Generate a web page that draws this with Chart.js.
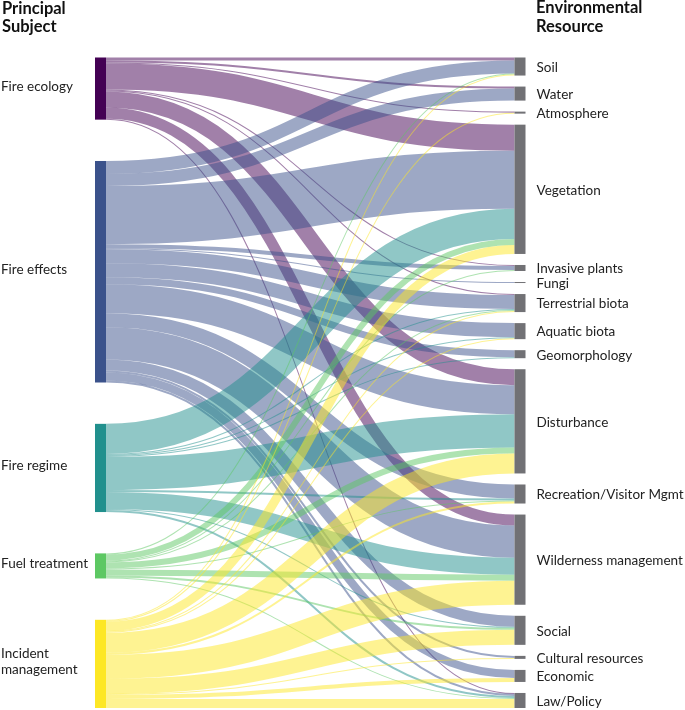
<!DOCTYPE html>
<html>
<head>
<meta charset="utf-8">
<script src="https://cdn.jsdelivr.net/npm/chart.js@4.4.1/dist/chart.umd.min.js"></script>
<style>
  html, body { margin: 0; padding: 0; background: #fff; }
</style>
</head>
<body>
<canvas id="sankey" width="685" height="710"></canvas>
<script>
// left column: principal subject of each study
const subjects = ["Fire ecology", "Fire effects", "Fire regime", "Fuel treatment", "Incident management"];
const subjectLines = [["Fire ecology"], ["Fire effects"], ["Fire regime"], ["Fuel treatment"], ["Incident", "management"]];
const subjectColors = ["#440154", "#3b528b", "#21908d", "#5dc863", "#fde725"];

// right column: environmental resource
const resources = ["Soil", "Water", "Atmosphere", "Vegetation", "Invasive plants", "Fungi",
  "Terrestrial biota", "Aquatic biota", "Geomorphology", "Disturbance",
  "Recreation/Visitor Mgmt", "Wilderness management", "Social", "Cultural resources",
  "Economic", "Law/Policy"];

// flow values, one array per subject, in the order of resources
const fireEcology   = [3, 2, 1, 26, 1, 0, 1, 0, 0, 16, 0, 11, 0, 0, 0, 1];
const fireEffects   = [13, 12, 0, 58, 4, 1, 14, 14, 7, 29, 14, 32, 11, 2, 8, 2];
const fireRegime    = [0, 0, 0, 30, 0, 0, 1, 1, 1, 33, 2, 17, 1, 0, 0, 2];
const fuelTreatment = [1, 0, 0, 6, 1, 0, 1, 0, 0, 6, 1, 6, 2, 0, 0, 1];
const incidentMgmt  = [1, 0, 1, 9, 0, 0, 1, 1, 0, 20, 2, 24, 15, 1, 4, 9];

const flows = [fireEcology, fireEffects, fireRegime, fuelTreatment, incidentMgmt];

// ---- layout in value units (y) ----
const nodePad = 11;
const leftTotals = flows.map(r => r.reduce((a, b) => a + b, 0));
const rightTotals = resources.map((_, j) => flows.reduce((a, r) => a + r[j], 0));
const total = leftTotals.reduce((a, b) => a + b, 0);
const yMax = total + (resources.length - 1) * nodePad;

const leftGap = (yMax - total) / (subjects.length - 1);
const leftTop = [];
let acc = 0;
leftTotals.forEach(t => { leftTop.push(acc); acc += t + leftGap; });
const rightTop = [];
acc = 0;
rightTotals.forEach(t => { rightTop.push(acc); acc += t + nodePad; });

// link positions: source side sorted by target, target side sorted by source
const links = [];
const srcOff = leftTop.slice();
const tgtOff = rightTop.slice();
for (let i = 0; i < subjects.length; i++) {
  for (let j = 0; j < resources.length; j++) {
    const v = flows[i][j];
    if (!v) continue;
    links.push({ s: i, t: j, v: v, sy: srcOff[i] });
    srcOff[i] += v;
  }
}
for (let j = 0; j < resources.length; j++) {
  for (let i = 0; i < subjects.length; i++) {
    const l = links.find(k => k.s === i && k.t === j);
    if (!l) continue;
    l.ty = tgtOff[j];
    tgtOff[j] += l.v;
  }
}

function hexA(hex, a) {
  const n = parseInt(hex.slice(1), 16);
  return "rgba(" + (n >> 16) + "," + ((n >> 8) & 255) + "," + (n & 255) + "," + a + ")";
}

const nodeW = 11;
const labelFont = "13.5px Lato";
const titleFont = "bold 16.5px Lato";

const sankeyPlugin = {
  id: "sankey",
  beforeDatasetsDraw(chart) {
    const ctx = chart.ctx, xs = chart.scales.x, ys = chart.scales.y;
    const x0 = xs.getPixelForValue(0) + nodeW;
    const x1 = xs.getPixelForValue(1) - nodeW;
    const mx = (x0 + x1) / 2;
    ctx.save();
    ctx.lineCap = "butt";
    links.forEach(l => {
      const w = ys.getPixelForValue(l.v) - ys.getPixelForValue(0);
      const ya = ys.getPixelForValue(l.sy + l.v / 2);
      const yb = ys.getPixelForValue(l.ty + l.v / 2);
      ctx.beginPath();
      ctx.moveTo(x0, ya);
      ctx.bezierCurveTo(mx, ya, mx, yb, x1, yb);
      ctx.lineWidth = Math.abs(w);
      ctx.strokeStyle = hexA(subjectColors[l.s], 0.5);
      ctx.stroke();
    });
    ctx.restore();
  },
  afterDatasetsDraw(chart) {
    const ctx = chart.ctx, xs = chart.scales.x, ys = chart.scales.y;
    const xl = xs.getPixelForValue(0);
    const xr = xs.getPixelForValue(1) - nodeW;
    ctx.save();
    subjects.forEach((s, i) => {
      const a = ys.getPixelForValue(leftTop[i]);
      const b = ys.getPixelForValue(leftTop[i] + leftTotals[i]);
      ctx.fillStyle = subjectColors[i];
      ctx.fillRect(xl, a, nodeW, b - a);
    });
    resources.forEach((r, j) => {
      const a = ys.getPixelForValue(rightTop[j]);
      const b = ys.getPixelForValue(rightTop[j] + rightTotals[j]);
      ctx.fillStyle = "#717175";
      ctx.fillRect(xr, a, nodeW, Math.max(1, b - a));
    });

    ctx.fillStyle = "#222";
    ctx.font = labelFont;
    ctx.textBaseline = "middle";
    ctx.textAlign = "left";
    subjectLines.forEach((lines, i) => {
      const c = ys.getPixelForValue(leftTop[i] + leftTotals[i] / 2);
      const lh = 16;
      lines.forEach((t, k) => {
        ctx.fillText(t, 1, c - 2 + (k - (lines.length - 1) / 2) * lh);
      });
    });
    resources.forEach((r, j) => {
      const c = ys.getPixelForValue(rightTop[j] + rightTotals[j] / 2);
      ctx.fillText(r, xs.getPixelForValue(1) + 11, c + 1);
    });

    ctx.fillStyle = "#111";
    ctx.font = titleFont;
    ctx.textBaseline = "alphabetic";
    ctx.fillText("Principal", 2, 14);
    ctx.fillText("Subject", 2, 32);
    ctx.fillText("Environmental", 536, 13);
    ctx.fillText("Resource", 536, 32);
    ctx.restore();
  }
};

new Chart("sankey", {
  type: "scatter",
  data: { datasets: [] },
  options: {
    responsive: false,
    animation: false,
    layout: { padding: { left: 95, right: 159.5, top: 57.5, bottom: 2 } },
    scales: {
      x: { type: "linear", min: 0, max: 1, display: false },
      y: { type: "linear", min: 0, max: yMax, reverse: true, display: false }
    },
    plugins: {
      legend: { display: false },
      tooltip: { enabled: false }
    }
  },
  plugins: [sankeyPlugin]
});
</script>
</body>
</html>
